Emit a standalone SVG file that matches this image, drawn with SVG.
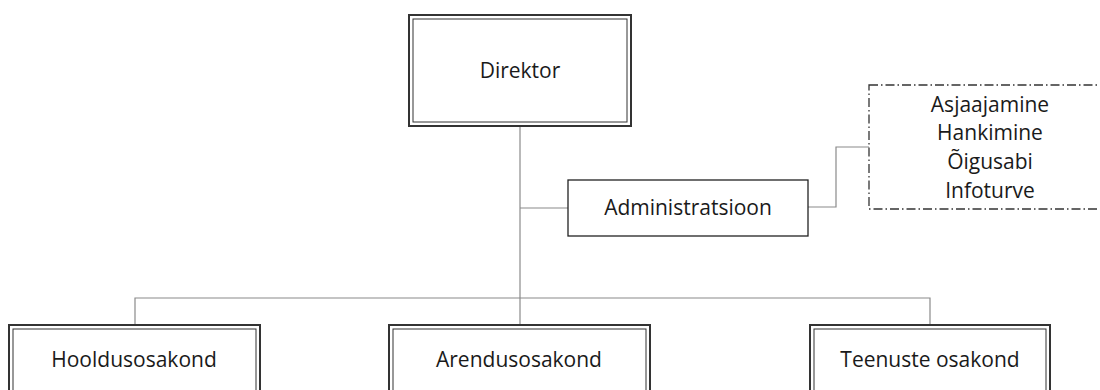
<svg xmlns="http://www.w3.org/2000/svg" width="1100" height="390" viewBox="0 0 1100 390">
<style>
.outer{fill:#fff;stroke:#333;stroke-width:2}
.inner{fill:none;stroke:#333;stroke-width:1}
.single{fill:#fff;stroke:#222;stroke-width:1.3}
.dash{fill:#fff;stroke:#333;stroke-width:1.3;stroke-dasharray:9 3 1.5 3}
.conn{fill:none;stroke:#8a8a8a;stroke-width:1.2}
text{font-family:"Open Sans","Noto Sans","Liberation Sans",sans-serif;font-size:21px;fill:#1a1a1a;text-anchor:middle}
</style>
<rect width="1100" height="390" fill="#fff"/>
<g id="connectors">
<path class="conn" d="M520 126 V325"/>
<path class="conn" d="M135 325 V298 H930 V325"/>
<path class="conn" d="M520 208 H568"/>
<path class="conn" d="M808 207 H836 V147 H870"/>
</g>
<g id="direktor">
<rect class="outer" x="409" y="15" width="222" height="111"/>
<rect class="inner" x="413" y="19" width="214" height="103"/>
<text x="520" y="78">Direktor</text>
</g>
<g id="administratsioon">
<rect class="single" x="568" y="180" width="240" height="56"/>
<text x="688" y="215">Administratsioon</text>
</g>
<g id="tugiteenused">
<rect class="dash" x="869" y="85" width="250" height="124"/>
<text x="990" y="112">Asjaajamine</text>
<text x="990" y="140">Hankimine</text>
<text x="990" y="169">Õigusabi</text>
<text x="990" y="198">Infoturve</text>
</g>
<g id="hooldusosakond">
<rect class="outer" x="9" y="325" width="251" height="90"/>
<rect class="inner" x="13" y="329" width="243" height="82"/>
<text x="134" y="367">Hooldusosakond</text>
</g>
<g id="arendusosakond">
<rect class="outer" x="389" y="325" width="261" height="90"/>
<rect class="inner" x="393" y="329" width="253" height="82"/>
<text x="519" y="367">Arendusosakond</text>
</g>
<g id="teenuste-osakond">
<rect class="outer" x="810" y="325" width="240" height="90"/>
<rect class="inner" x="814" y="329" width="232" height="82"/>
<text x="930" y="367">Teenuste osakond</text>
</g>
</svg>
